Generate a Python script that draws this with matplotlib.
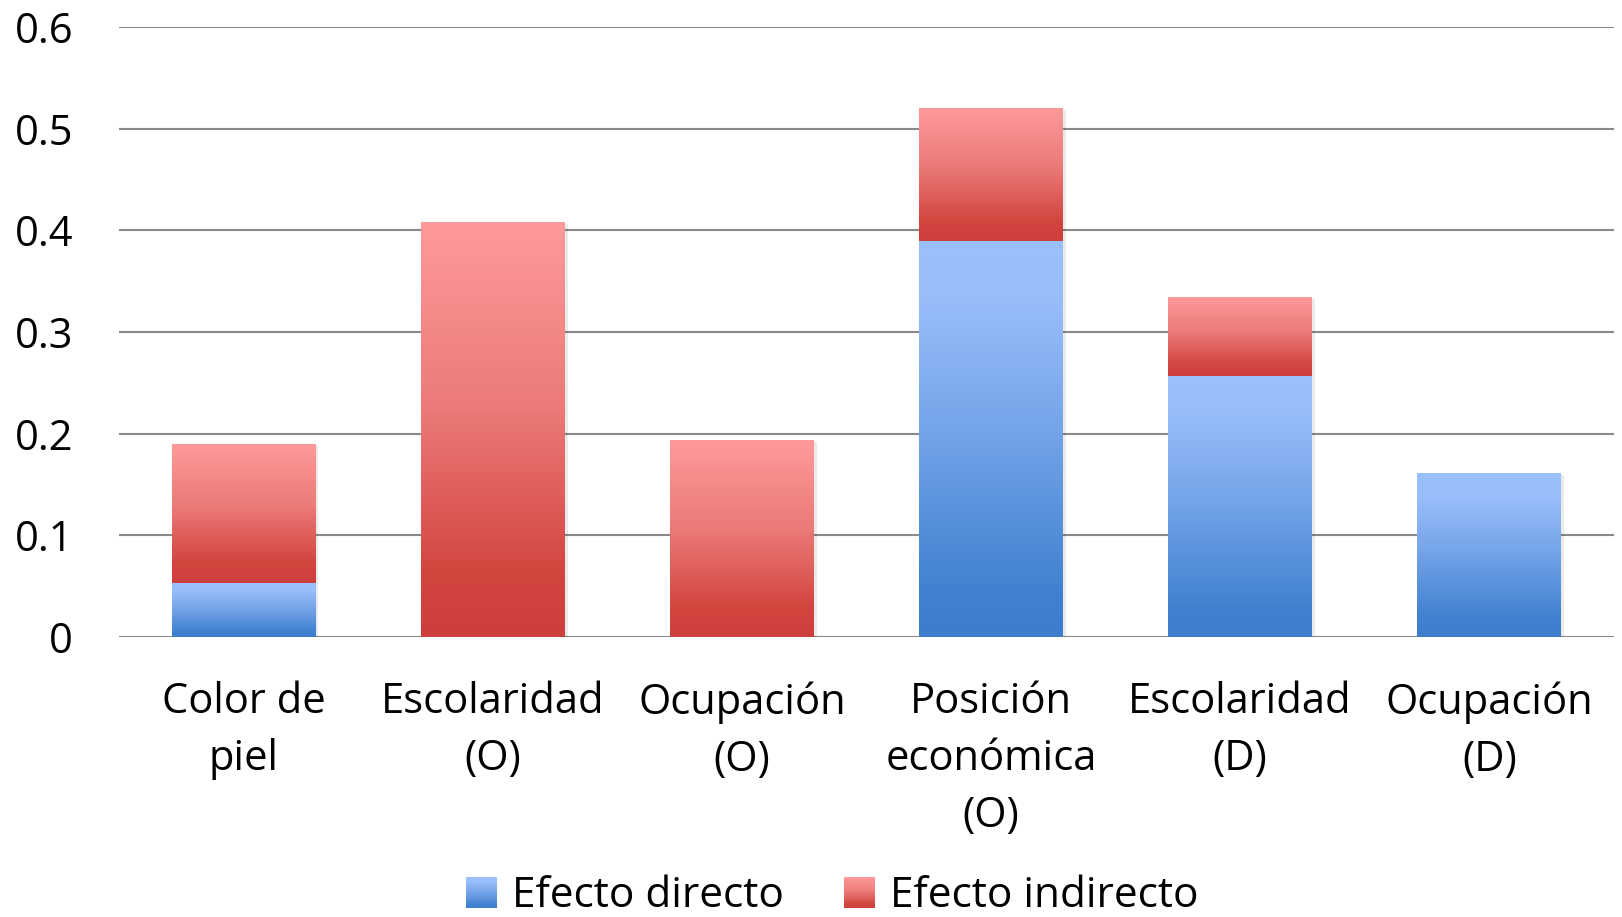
import matplotlib
matplotlib.use("Agg")
import matplotlib.pyplot as plt
import numpy as np
from matplotlib.colors import LinearSegmentedColormap
from matplotlib.legend_handler import HandlerBase
from matplotlib.patches import Rectangle

plt.rcParams['font.family'] = ['Open Sans', 'DejaVu Sans']

# datos
categorias = ['Color de\npiel', 'Escolaridad\n(O)', 'Ocupación\n(O)',
              'Posición\neconómica\n(O)', 'Escolaridad\n(D)', 'Ocupación\n(D)']
efecto_directo = [0.053, 0, 0, 0.389, 0.257, 0.161]
efecto_indirecto = [0.137, 0.408, 0.1935, 0.131, 0.077, 0]
series = ['Efecto directo', 'Efecto indirecto']
yticks = [0, 0.1, 0.2, 0.3, 0.4, 0.5, 0.6]

# degradados (de abajo hacia arriba)
cmap_azul = LinearSegmentedColormap.from_list(
    'azul', [(0, '#3C7ECC'), (0.12, '#4182D0'), (0.55, '#78A6EA'),
             (0.85, '#97BDFB'), (1, '#9AC0FE')])
cmap_rojo = LinearSegmentedColormap.from_list(
    'rojo', [(0, '#CE3E3C'), (0.15, '#D3453F'), (0.55, '#EB7A78'),
             (1, '#FF9A9A')])
grad = np.linspace(0, 1, 256).reshape(-1, 1)

fig = plt.figure(figsize=(16.22, 9.17), dpi=100)
ax = fig.add_axes([0.0734, 0.3054, 0.9216, 0.6652])

x = np.arange(len(categorias))
ancho = 0.577


def barras_degradado(valores, base, cmap):
    barras = ax.bar(x, valores, ancho, bottom=base, facecolor='none',
                    edgecolor='none', zorder=3)
    for b in barras:
        h = b.get_height()
        if h <= 0:
            continue
        x0, y0 = b.get_x(), b.get_y()
        # sombra suave
        ax.add_patch(Rectangle((x0 + 0.012, y0 - 0.002), b.get_width(), h,
                               facecolor='#000000', alpha=0.08,
                               edgecolor='none', zorder=2))
        im = ax.imshow(grad, cmap=cmap, origin='lower', aspect='auto',
                       extent=[x0, x0 + b.get_width(), y0, y0 + h],
                       zorder=3, interpolation='bilinear')
        im.set_clip_path(b)
    return barras


barras_degradado(efecto_directo, 0, cmap_azul)
barras_degradado(efecto_indirecto, efecto_directo, cmap_rojo)

ax.set_xlim(-0.5, len(categorias) - 0.5)
ax.set_ylim(0, 0.6)
ax.set_yticks(yticks)
ax.set_yticklabels(['0', '0.1', '0.2', '0.3', '0.4', '0.5', '0.6'])
ax.set_xticks(x)
ax.set_xticklabels(categorias, linespacing=1.47)
ax.tick_params(axis='y', length=0, pad=33, labelsize=30)
ax.tick_params(axis='x', length=0, pad=32, labelsize=30)
for s in ax.spines.values():
    s.set_visible(False)
ax.yaxis.grid(True, color='#898989', linewidth=1.5, zorder=1)
ax.set_axisbelow(True)


class HandlerDegradado(HandlerBase):
    def __init__(self, cmap):
        super().__init__()
        self.cmap = cmap

    def create_artists(self, legend, orig_handle, xdescent, ydescent,
                       width, height, fontsize, trans):
        n = 20
        lado = height * 1.05
        x0 = -xdescent + width - lado
        y0 = -ydescent - height * 0.05
        piezas = []
        for i in range(n):
            r = Rectangle((x0, y0 + lado * i / n), lado, lado / n + 0.3,
                          facecolor=self.cmap((i + 0.5) / n),
                          edgecolor='none', transform=trans)
            piezas.append(r)
        return piezas


h_azul = Rectangle((0, 0), 1, 1)
h_rojo = Rectangle((0, 0), 1, 1)
fig.legend([h_azul, h_rojo], series, loc='lower center',
           bbox_to_anchor=(0.511, 0.0), ncol=2, frameon=False,
           fontsize=30.5, handlelength=0.9, handletextpad=0.35,
           columnspacing=1.25, borderaxespad=0.0, borderpad=0.0,
           handler_map={h_azul: HandlerDegradado(cmap_azul),
                        h_rojo: HandlerDegradado(cmap_rojo)})

fig.savefig('out.png', dpi=100)
